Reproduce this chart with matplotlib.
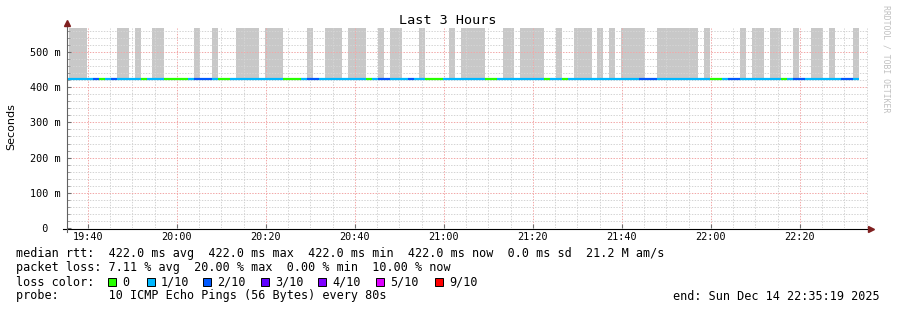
"""
Grafico tipo SmokePing: ultimas 3 horas, mediana de rtt coloreada por perdida
"""
import matplotlib
matplotlib.use('Agg')
import matplotlib.pyplot as plt
import matplotlib.dates as mdates
from matplotlib.ticker import MultipleLocator
from matplotlib.patches import Rectangle
from matplotlib.lines import Line2D
from datetime import datetime, timedelta

# ventana de tiempo
t_start = datetime(2025, 12, 14, 19, 35, 19)
t_end = datetime(2025, 12, 14, 22, 35, 19)
first_step = datetime(2025, 12, 14, 19, 34, 31)
step_s = 80

median_rtt = 0.422      # s
smoke_top = 0.5685      # s

# perdida por paso (en decimos, 10 pings por paso)
loss = [1, 1, 1, 1, 1, 2, 0, 1, 2, 1,
        1, 1, 1, 0, 1, 1, 1, 0, 0, 0,
        0, 1, 2, 2, 2, 1, 0, 0, 1, 1,
        1, 1, 1, 1, 1, 1, 1, 0, 0, 0,
        1, 2, 2, 1, 1, 1, 1, 1, 1, 1,
        1, 0, 1, 2, 2, 1, 1, 1, 2, 1,
        1, 0, 0, 0, 1, 1, 1, 1, 1, 1,
        1, 0, 0, 1, 1, 1, 1, 1, 1, 1,
        1, 0, 1, 1, 0, 1, 1, 1, 1, 1,
        1, 1, 1, 1, 1, 1, 1, 2, 2, 2,
        1, 1, 1, 1, 1, 1, 1, 1, 1, 0,
        0, 1, 2, 2, 1, 1, 1, 1, 1, 1,
        1, 0, 1, 2, 2, 1, 1, 1, 1, 1,
        1, 2, 2, 1]

# humo gris (1 = hay humo en ese paso)
smoke = [0, 1, 1, 1, 0, 0, 0, 0, 0, 1,
         1, 0, 1, 0, 0, 1, 1, 0, 0, 0,
         0, 0, 1, 0, 0, 1, 0, 0, 0, 1,
         1, 1, 1, 0, 1, 1, 1, 0, 0, 0,
         0, 1, 0, 0, 1, 1, 1, 0, 1, 1,
         1, 0, 0, 1, 0, 1, 1, 0, 0, 0,
         1, 0, 0, 0, 0, 1, 0, 1, 1, 1,
         1, 0, 0, 0, 1, 1, 0, 1, 1, 1,
         1, 0, 0, 1, 0, 0, 1, 1, 1, 0,
         1, 0, 1, 0, 1, 1, 1, 1, 0, 0,
         1, 1, 1, 1, 1, 1, 1, 0, 1, 0,
         0, 0, 0, 0, 1, 0, 1, 1, 0, 1,
         1, 0, 0, 1, 0, 0, 1, 1, 0, 1,
         0, 0, 0, 1]

loss_labels = ['0', '1/10', '2/10', '3/10', '4/10', '5/10', '9/10']
loss_keys = [0, 1, 2, 3, 4, 5, 9]
loss_palette = ['#26ff00', '#00b8ff', '#0059ff', '#5e00ff', '#7e00ff', '#dd00ff', '#ff0000']
loss_color = dict(zip(loss_keys, loss_palette))

stats_line = "median rtt:  422.0 ms avg  422.0 ms max  422.0 ms min  422.0 ms now  0.0 ms sd  21.2 M am/s"
loss_line = "packet loss: 7.11 % avg  20.00 % max  0.00 % min  10.00 % now"
probe_line = "probe:       10 ICMP Echo Pings (56 Bytes) every 80s"
end_line = "end: Sun Dec 14 22:35:19 2025"

W, H = 897, 310
MONO = 'DejaVu Sans Mono'
LEG_FS = 8.5


def fx(x):
    return x / W


def fy(y):
    return 1 - y / H


fig = plt.figure(figsize=(W / 100, H / 100), dpi=100, facecolor='white')
ax = fig.add_axes([fx(67), fy(228), (868 - 67) / W, (228 - 27.9) / H])

# pasos de tiempo
lefts = [first_step + timedelta(seconds=step_s * i) for i in range(len(loss))]
rights = [t + timedelta(seconds=step_s) for t in lefts]
lefts_n = mdates.date2num(lefts)
rights_n = mdates.date2num(rights)
width = step_s / 86400.0

# humo
sm_x = [l for l, s in zip(lefts_n, smoke) if s]
ax.bar(sm_x, smoke_top - median_rtt, bottom=median_rtt, width=width, align='edge',
       color='#c8c8c8', linewidth=0, zorder=1)

# mediana coloreada
ax.hlines([median_rtt] * len(loss), lefts_n, rights_n,
          colors=[loss_color[v] for v in loss],
          linewidth=1.6, capstyle='butt', zorder=3)

ax.set_xlim(mdates.date2num(t_start), mdates.date2num(t_end))
ax.set_ylim(0, smoke_top)

# grilla
ax.xaxis.set_major_locator(mdates.MinuteLocator(byminute=[0, 20, 40]))
ax.xaxis.set_minor_locator(mdates.MinuteLocator(byminute=range(0, 60, 5)))
ax.xaxis.set_major_formatter(mdates.DateFormatter('%H:%M'))
ax.yaxis.set_major_locator(MultipleLocator(0.1))
ax.yaxis.set_minor_locator(MultipleLocator(0.02))
ax.set_axisbelow(False)
ax.grid(which='minor', color='#d4d4d4', linestyle=(0, (1.4, 1.4)), linewidth=0.72, zorder=2)
ax.grid(which='major', color='#f2a8a8', linestyle=(0, (1.4, 1.4)), linewidth=0.72, zorder=2)

yt = [0, 0.1, 0.2, 0.3, 0.4, 0.5]
ax.set_yticks(yt)
ax.set_yticklabels(['  0', '100 m', '200 m', '300 m', '400 m', '500 m'],
                   fontfamily=MONO, fontsize=7.3, ha='left')
for lab in ax.get_xticklabels():
    lab.set_fontfamily(MONO)
    lab.set_fontsize(7.3)
ax.tick_params(axis='y', which='major', direction='in', length=3, pad=26.6,
               color='#707070')
ax.tick_params(axis='x', which='major', direction='in', length=3, pad=3,
               color='#707070')
ax.tick_params(which='minor', direction='in', length=2, color='#909090')
ax.tick_params(axis='x', which='minor', length=0)

for s in ax.spines.values():
    s.set_visible(False)

# ejes con flechas
fig.add_artist(Line2D([fx(63), fx(869)], [fy(228.5), fy(228.5)], color='black',
                      linewidth=0.8, transform=fig.transFigure))
fig.add_artist(Line2D([fx(67), fx(67)], [fy(232), fy(24)], color='#606060',
                      linewidth=0.8, transform=fig.transFigure))
fig.add_artist(Line2D([fx(871)], [fy(228.5)], marker='>', markersize=4, color='#7f1f1f',
                      linestyle='none', transform=fig.transFigure))
fig.add_artist(Line2D([fx(67)], [fy(22.5)], marker='^', markersize=4, color='#7f1f1f',
                      linestyle='none', transform=fig.transFigure))

# textos
fig.text(fx(448), fy(20), 'Last 3 Hours', fontfamily=MONO, fontsize=9.7,
         ha='center', va='center')
fig.text(fx(11), fy(127), 'Seconds', fontsize=8, rotation=90, ha='center', va='center')
fig.text(fx(886), fy(5), 'RRDTOOL / TOBI OETIKER', fontfamily=MONO, fontsize=5.9,
         color='#c0c0c0', rotation=270, ha='center', va='top')

fig.text(fx(16), fy(253), stats_line, fontfamily=MONO, fontsize=LEG_FS, va='center')
fig.text(fx(16), fy(268), loss_line, fontfamily=MONO, fontsize=LEG_FS, va='center')
fig.text(fx(16), fy(282), 'loss color:', fontfamily=MONO, fontsize=LEG_FS, va='center')
fig.text(fx(16), fy(296), probe_line, fontfamily=MONO, fontsize=LEG_FS, va='center')
fig.text(fx(880), fy(296), end_line, fontfamily=MONO, fontsize=LEG_FS, va='center', ha='right')

box_x = [108, 147, 203, 261, 318, 376, 435]
for bx, lab, col in zip(box_x, loss_labels, loss_palette):
    fig.add_artist(Rectangle((fx(bx), fy(286)), 8 / W, 8 / H, facecolor=col,
                             edgecolor='black', linewidth=0.7, transform=fig.transFigure))
    fig.text(fx(bx + 14), fy(282), lab, fontfamily=MONO, fontsize=LEG_FS, va='center')

fig.savefig('out.png', dpi=100, facecolor='white')
plt.close(fig)
